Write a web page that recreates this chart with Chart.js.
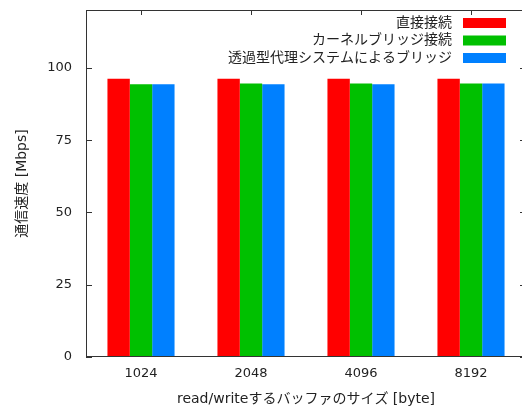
<!DOCTYPE html>
<html><head><meta charset="utf-8">
<script src="https://cdn.jsdelivr.net/npm/chart.js@4"></script>
<style>html,body{margin:0;padding:0;background:#fff;overflow:hidden}#wrap{width:530px;height:412px}</style>
</head><body><div id="wrap"><canvas id="c" width="530" height="412"></canvas></div>
<script>
const categories = ['1024', '2048', '4096', '8192'];
const seriesNames = ['直接接続', 'カーネルブリッジ接続', '透過型代理システムによるブリッジ'];
const directValues = [96.2, 96.2, 96.2, 96.2];
const kernelBridgeValues = [94.3, 94.6, 94.6, 94.6];
const proxyBridgeValues = [94.3, 94.3, 94.3, 94.6];
const yTickValues = [0, 25, 50, 75, 100];
const xTitle = 'read/writeするバッファのサイズ [byte]';
const yTitle = '通信速度 [Mbps]';
const seriesColors = ['#ff0000', '#00c000', '#0080ff'];

const FONT = '"DejaVu Sans", "Noto Sans CJK JP", sans-serif';
const TEXT = '#222';
const AXIS = '#333';

const frame = {
  id: 'frame',
  beforeDatasetsDraw(chart) {
    const {ctx, chartArea: a, scales: {x, y}} = chart;
    ctx.save();
    ctx.strokeStyle = AXIS; ctx.lineWidth = 1;
    ctx.beginPath();
    yTickValues.forEach(v => {
      const py = Math.round(y.getPixelForValue(v)) + 0.5;
      ctx.moveTo(a.left, py); ctx.lineTo(a.left + 6, py);
      ctx.moveTo(a.right, py); ctx.lineTo(a.right - 6, py);
    });
    categories.forEach((c, i) => {
      const px = Math.round(x.getPixelForValue(i)) + 0.5;
      ctx.moveTo(px, a.top); ctx.lineTo(px, a.top + 5);
      ctx.moveTo(px, a.bottom); ctx.lineTo(px, a.bottom - 5);
    });
    ctx.stroke();
    ctx.restore();
  },
  afterDatasetsDraw(chart) {
    const {ctx, chartArea: a} = chart;
    ctx.save();
    ctx.strokeStyle = AXIS; ctx.lineWidth = 1;
    ctx.strokeRect(Math.round(a.left) + 0.5, Math.round(a.top) + 0.5,
                   Math.round(a.right - a.left) - 1, Math.round(a.bottom - a.top) - 1);
    // legend inside plot, top right
    ctx.font = '14px ' + FONT;
    ctx.textAlign = 'right';
    ctx.textBaseline = 'middle';
    chart.data.datasets.forEach((ds, i) => {
      const cy = a.top + 13 + i * 17.5;
      ctx.fillStyle = TEXT;
      ctx.fillText(ds.label, 452, cy);
      ctx.fillStyle = ds.backgroundColor;
      ctx.fillRect(463, cy - 5, 43, 10);
    });
    ctx.restore();
  }
};

new Chart(document.getElementById('c'), {
  type: 'bar',
  data: {
    labels: categories,
    datasets: [
      {label: seriesNames[0], data: directValues, backgroundColor: seriesColors[0]},
      {label: seriesNames[1], data: kernelBridgeValues, backgroundColor: seriesColors[1]},
      {label: seriesNames[2], data: proxyBridgeValues, backgroundColor: seriesColors[2]}
    ]
  },
  options: {
    responsive: false,
    devicePixelRatio: 1,
    animation: false,
    layout: {padding: {left: 0, top: 10, right: 4, bottom: 0}},
    datasets: {bar: {barPercentage: 1, categoryPercentage: 0.61}},
    plugins: {legend: {display: false}, tooltip: {enabled: false}},
    scales: {
      x: {
        grid: {display: false, drawTicks: false},
        border: {display: false},
        ticks: {color: TEXT, font: {family: FONT, size: 13}, padding: 9},
        title: {display: true, text: xTitle, color: TEXT, font: {family: FONT, size: 14}, padding: {top: 0, bottom: 4}},
        afterFit(s) { s.height = 55; s.paddingLeft = 0; s.paddingRight = 0; }
      },
      y: {
        min: 0, max: 120,
        grid: {display: false, drawTicks: false},
        border: {display: false},
        afterBuildTicks(s) { s.ticks = yTickValues.map(v => ({value: v})); },
        ticks: {color: TEXT, font: {family: FONT, size: 13}, padding: 14},
        title: {display: true, text: yTitle, color: TEXT, font: {family: FONT, size: 14}, padding: {top: 14, bottom: 0}},
        afterFit(s) { s.width = 86; s.paddingTop = 0; s.paddingBottom = 0; }
      }
    }
  },
  plugins: [frame]
});
</script>
</body></html>
